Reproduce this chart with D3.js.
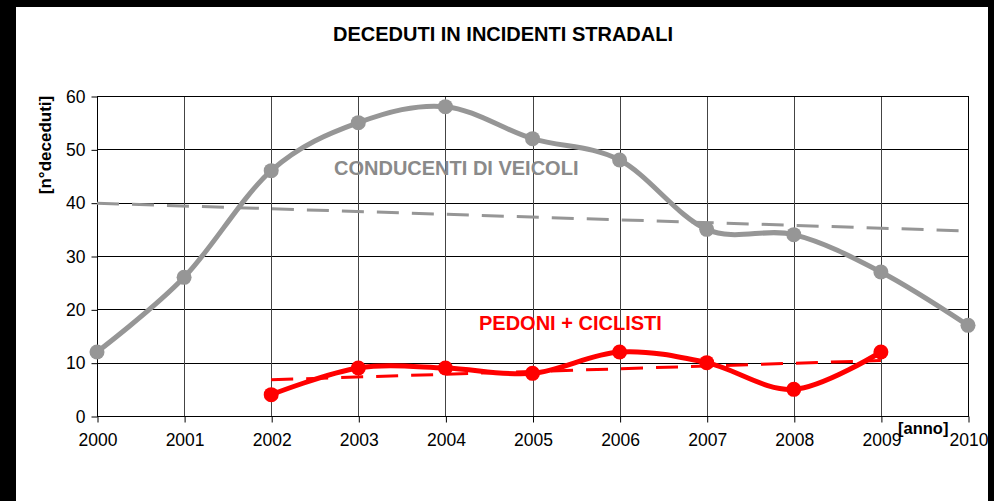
<!DOCTYPE html>
<html>
<head>
<meta charset="utf-8">
<script src="https://cdn.jsdelivr.net/npm/d3@7"></script>
<style>
  html, body { margin: 0; padding: 0; background: #fff; }
  svg { display: block; font-family: "Liberation Sans", Arial, sans-serif; }
</style>
</head>
<body>
<svg width="994" height="501"></svg>
<script>
const width = 994, height = 501;
const svg = d3.select("svg");

// data
const years = [2000, 2001, 2002, 2003, 2004, 2005, 2006, 2007, 2008, 2009, 2010];
const conducenti = [12, 26, 46, 55, 58, 52, 48, 35, 34, 27, 17];
const pedoniYears = [2002, 2003, 2004, 2005, 2006, 2007, 2008, 2009];
const pedoni = [4, 9, 9, 8, 12, 10, 5, 12];
// trend lines (start / end)
const trendConducenti = [[2000, 39.9], [2010, 34.7]];
const trendPedoni = [[2002, 6.8], [2009, 10.4]];
const yTicks = [0, 10, 20, 30, 40, 50, 60];

const grey = "#969696", red = "#ff0000";
const plotL = 97, plotR = 968, plotT = 96, plotB = 416;

const x = d3.scaleLinear().domain([2000, 2010]).range([plotL, plotR]);
const y = d3.scaleLinear().domain([0, 60]).range([plotB, plotT]);

// black frame of the picture
svg.append("rect").attr("x", 0).attr("y", 0).attr("width", 16).attr("height", height).attr("fill", "#000");
svg.append("rect").attr("x", 0).attr("y", 0).attr("width", width).attr("height", 7).attr("fill", "#000");
svg.append("rect").attr("x", 988).attr("y", 0).attr("width", 6).attr("height", height).attr("fill", "#000");

// grid
const grid = svg.append("g").attr("stroke", "#000").attr("stroke-width", 1);
grid.selectAll(".h").data(yTicks).join("line")
  .attr("x1", plotL).attr("x2", plotR)
  .attr("y1", d => Math.round(y(d)) + 0.5).attr("y2", d => Math.round(y(d)) + 0.5);
grid.selectAll(".v").data(years).join("line")
  .attr("stroke", "#444")
  .attr("y1", plotT).attr("y2", plotB)
  .attr("x1", d => Math.round(x(d)) + 0.5).attr("x2", d => Math.round(x(d)) + 0.5);
svg.append("rect").attr("x", plotL + 0.5).attr("y", plotT + 0.5)
  .attr("width", plotR - plotL).attr("height", plotB - plotT)
  .attr("fill", "none").attr("stroke", "#000");

// axes
const yAxis = svg.append("g").attr("transform", `translate(${plotL + 0.5},0.5)`)
  .call(d3.axisLeft(y).tickValues(yTicks).tickSize(6).tickPadding(6));
const xAxis = svg.append("g").attr("transform", `translate(0.5,${plotB + 0.5})`)
  .call(d3.axisBottom(x).tickValues(years).tickFormat(d3.format("d")).tickSize(6).tickPadding(11));
[yAxis, xAxis].forEach(a => {
  a.select(".domain").remove();
  a.selectAll("line").attr("stroke", "#000");
  a.selectAll("text").attr("fill", "#000").style("font-size", "17.5px").style("font-family", "Liberation Sans, Arial, sans-serif");
});

// title and axis labels
svg.append("text").attr("x", 503).attr("y", 41).attr("text-anchor", "middle")
  .style("font-size", "20px").style("font-weight", "bold").text("DECEDUTI IN INCIDENTI STRADALI");
svg.append("text").attr("transform", "translate(51,145) rotate(-90)").attr("text-anchor", "middle")
  .style("font-size", "17px").style("font-weight", "bold").text("[n°deceduti]");
svg.append("text").attr("x", 898).attr("y", 434)
  .style("font-size", "16.5px").style("font-weight", "bold").text("[anno]");

// trend lines
const tline = d3.line().x(d => x(d[0])).y(d => y(d[1]));
svg.append("path").datum(trendConducenti).attr("d", tline)
  .attr("fill", "none").attr("stroke", grey).attr("stroke-width", 3).attr("stroke-dasharray", "22,13");
svg.append("path").datum(trendPedoni).attr("d", tline)
  .attr("fill", "none").attr("stroke", red).attr("stroke-width", 3).attr("stroke-dasharray", "22,13");

// smoothed series
const smooth = d3.line().x(d => x(d[0])).y(d => y(d[1])).curve(d3.curveCardinal.tension(0));
const gData = years.map((yr, i) => [yr, conducenti[i]]);
const rData = pedoniYears.map((yr, i) => [yr, pedoni[i]]);

svg.append("path").datum(gData).attr("d", smooth)
  .attr("fill", "none").attr("stroke", grey).attr("stroke-width", 5);
svg.append("g").selectAll("circle").data(gData).join("circle")
  .attr("cx", d => x(d[0])).attr("cy", d => y(d[1])).attr("r", 7.5).attr("fill", grey);

svg.append("path").datum(rData).attr("d", smooth)
  .attr("fill", "none").attr("stroke", red).attr("stroke-width", 5);
svg.append("g").selectAll("circle").data(rData).join("circle")
  .attr("cx", d => x(d[0])).attr("cy", d => y(d[1])).attr("r", 7.5).attr("fill", red);

// series labels
svg.append("text").attr("x", 334).attr("y", 175)
  .attr("fill", "#8a8a8a").style("font-size", "20px").style("font-weight", "bold").text("CONDUCENTI DI VEICOLI");
svg.append("text").attr("x", 479).attr("y", 330)
  .attr("fill", red).style("font-size", "20px").style("font-weight", "bold").text("PEDONI + CICLISTI");
</script>
</body>
</html>
